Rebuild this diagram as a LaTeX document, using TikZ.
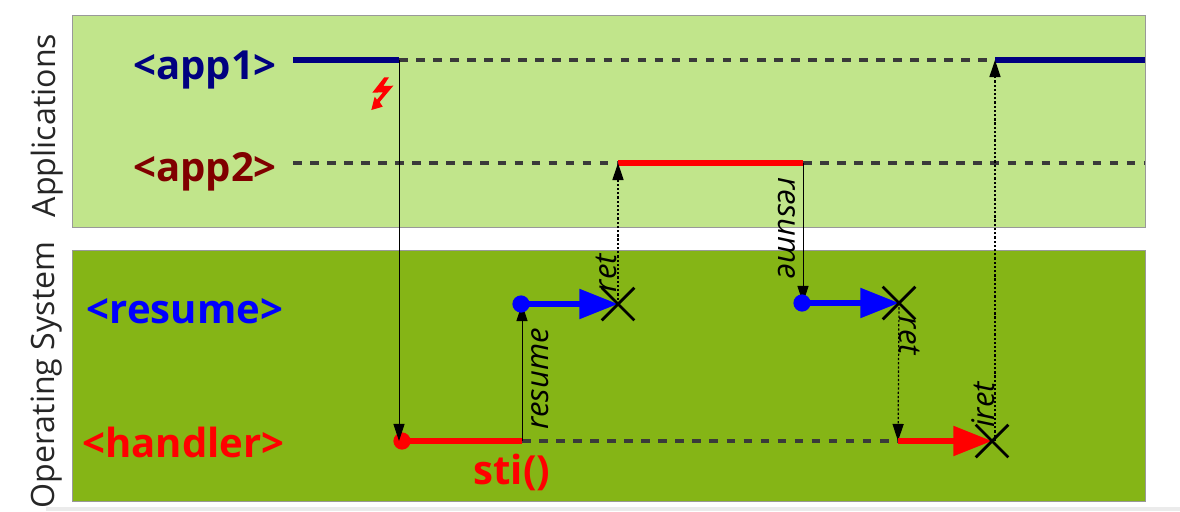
\documentclass[tikz,border=0pt]{standalone}
\usepackage{xcolor}
\usepackage{fontspec}
\setmainfont{Open Sans}
\usetikzlibrary{positioning, arrows.meta, shapes.misc}
\definecolor{applight}{HTML}{C1E58B}
\definecolor{osdark}{HTML}{85B516}
\definecolor{dashgray}{HTML}{3A3A3A}

\begin{document}
\begin{tikzpicture}[
  x=0.02cm, y=-0.02cm,
  panel/.style={draw=gray!80, line width=0.6pt},
  side/.style={rotate=90, font=\fontsize{18.3}{22}\selectfont, text=black!85},
  ctx/.style={font=\fontsize{22.8}{27}\selectfont\bfseries},
  call/.style={rotate=#1, font=\fontsize{17.7}{21}\selectfont\itshape, inner sep=0pt},
  run/.style={line width=3.2pt},
  idle/.style={line width=2.5pt, dashgray, dash pattern=on 4.9pt off 4.8pt},
  flow/.style={-{Triangle[length=22pt, width=16.5pt]}, line width=3.1pt},
  jump/.style={-{Triangle[length=9.7pt, width=6.3pt]}, line width=0.5pt},
  ret/.style={jump, line width=0.7pt, dash pattern=on 1.3pt off 1.1pt},
  start/.style={circle, minimum size=9.8pt, inner sep=0pt},
  stop/.style={cross out, draw=black, line width=1.6pt, minimum size=17pt, inner sep=0pt},
]
  \useasboundingbox (0,0) rectangle (1180,511);

  % Panels
  \fill[black!8] (46,507) rectangle (1180,511);
  \node[panel, fill=applight, minimum width=12.16cm*1.7645, minimum height=4.24cm, anchor=north west] (apps) at (72,15) {};
  \node[panel, fill=osdark, minimum width=12.16cm*1.7645, minimum height=5.02cm, anchor=north west] (os) at (72,250) {};

  % Side titles and contexts
  \node[side] (applab) at (47,125.5) {Applications};
  \node[side] (oslab) at (47,375) {Operating System};
  \node[ctx, text={rgb,255:red,0;green,0;blue,128}] (app1) at (205,70) {<app1>};
  \node[ctx, text={rgb,255:red,128;green,0;blue,0}] (app2) at (205,172) {<app2>};
  \node[ctx, text=blue] (resume) at (185,311) {<resume>};
  \node[ctx, text=red] (handler) at (183.5,442) {<handler>};
  \node[ctx, text=red] (sti) at (512,472) {sti()};

  % Points on the time lines
  \coordinate (a1in) at (293,60);
  \coordinate (a1irq) at (399,60);
  \coordinate (a1back) at (995,60);
  \coordinate (a1end) at (1145,60);
  \coordinate (a2in) at (293,163);
  \coordinate (a2on) at (618,163);
  \coordinate (a2off) at (803,163);
  \coordinate (a2end) at (1145,163);
  \coordinate (h0) at (399,441);
  \coordinate (hsti) at (522,441);
  \coordinate (hback) at (898,441);
  \coordinate (r1top) at (522,304);
  \coordinate (r2top) at (803,303);
  \coordinate (hiret) at (995,441);

  % Time lines
  \draw[idle] (a1irq) -- (a1back);
  \draw[idle] (a2in) -- (a2on);
  \draw[idle] (a2off) -- (a2end);
  \draw[idle] (hsti) -- (hback);
  \draw[run, draw={rgb,255:red,0;green,0;blue,128}] (a1in) -- (a1irq);
  \draw[run, draw={rgb,255:red,0;green,0;blue,128}] (a1back) -- (a1end);
  \draw[run, red] (a2on) -- (a2off);

  % Handler and resume runs
  \node[start, fill=red] (hdot) at (402,441) {};
  \draw[run, red] (hdot.center) -- (hsti);
  \coordinate (x1) at (618,304);
  \coordinate (x2) at (899,303);
  \coordinate (x3) at (992,441);

  % Switches
  \draw[jump] (a1irq) -- (h0);
  \draw[jump] (hsti) -- (r1top);
  \draw[ret] (x1) -- (a2on);
  \draw[jump] (a2off) -- (r2top);
  \draw[ret] (x2) -- (hback);
  \draw[ret] (hiret) -- (a1back);

  \node[start, fill=blue] (r1dot) at (521,304) {};
  \node[start, fill=blue] (r2dot) at (802,303) {};
  \draw[flow, blue] (r1dot.center) -- (x1);
  \draw[flow, blue] (r2dot.center) -- (x2);
  \draw[flow, red] (hback) -- (x3);
  \node[stop] (stop1) at (x1) {};
  \node[stop] (stop2) at (x2) {};
  \node[stop] (stop3) at (x3) {};

  % Switch labels
  \node[call=90] (l1) at (540,379) {resume};
  \node[call=-90] (l2) at (787,228) {resume};
  \node[call=90] (l3) at (606,273) {ret};
  \node[call=-90] (l4) at (910,336) {ret};
  \node[call=90] (l5) at (983,405) {iret};

  % Interrupt mark
  \fill[red] (384.3,77.3) -- (389,77.3) -- (383.3,86) -- (393.3,85.7) -- (379.7,102)
    -- (382.7,106.7) -- (371.3,110) -- (374.7,96.7) -- (377,99.7) -- (383,92.3)
    -- (372.3,92.7) -- cycle;
\end{tikzpicture}
\end{document}
